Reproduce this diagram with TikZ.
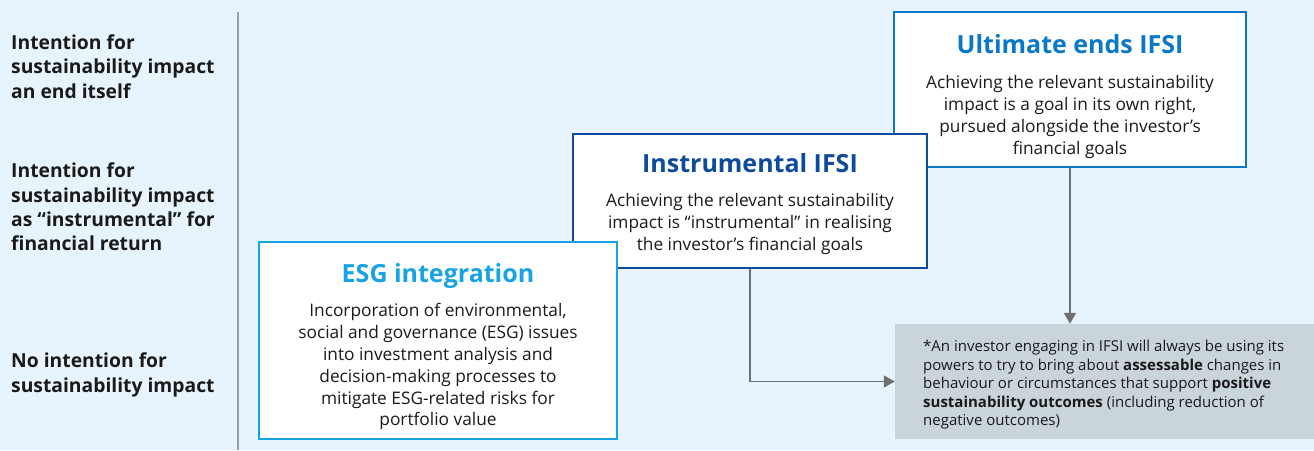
\documentclass[tikz,border=0pt]{standalone}
\usepackage{fontspec}
\setmainfont{Open Sans}
\usetikzlibrary{arrows.meta}
\definecolor{bg}{HTML}{E8F4FD}
\definecolor{ultc}{HTML}{0A78C8}
\definecolor{insc}{HTML}{0D4C9A}
\definecolor{esgc}{HTML}{18A3E3}
\definecolor{grayfill}{HTML}{C9D4DB}
\definecolor{arrc}{HTML}{707070}
\definecolor{sepc}{HTML}{9A9EA2}
\definecolor{txt}{HTML}{1A1A1A}
\tikzset{
  box/.style={draw, fill=white, line width=2.5pt, inner sep=0pt},
  ttl/.style={font=\fontsize{25}{28}\selectfont\bfseries, anchor=base, inner sep=0pt},
  body/.style={font=\fontsize{17.3}{21.8}\selectfont, text=txt, align=center, anchor=north, inner sep=0pt},
  lbl/.style={font=\fontsize{19.3}{24.3}\selectfont\bfseries, text=txt, align=left, anchor=north west, inner sep=0pt},
  conn/.style={draw=arrc, line width=1.5pt, -{Triangle[length=11pt,width=12pt]}},
}
\begin{document}
\begin{tikzpicture}[x=1pt,y=-1pt]
\fill[bg] (0,0) rectangle (1314,450);
\useasboundingbox (0,0) rectangle (1314,450);
% separator
\coordinate (sepT) at (238,12);
\coordinate (sepB) at (238,450);
\draw[sepc, line width=1.2pt] (sepT) -- (sepB);
% left labels
\node[lbl] (l1) at (11,34.5) {Intention for\\sustainability impact\\an end itself};
\node[lbl] (l2) at (11,163) {Intention for\\sustainability impact\\as “instrumental” for\\financial return};
\node[lbl] (l3) at (11,353) {No intention for\\sustainability impact};
% boxes
\node[box, draw=ultc, minimum width=352pt, minimum height=155pt] (ult) at (1070,89.5) {};
\node[ttl, text=ultc] (ultT) at (1070,53) {Ultimate ends IFSI};
\node[body] (ultB) at (1070,75.5) {Achieving the relevant sustainability\\impact is a goal in its own right,\\pursued alongside the investor’s\\financial goals};
\node[box, draw=insc, minimum width=354pt, minimum height=134pt] (ins) at (750,201) {};
\node[ttl, text=insc] (insT) at (750,172) {Instrumental IFSI};
\node[body] (insB) at (750,193.5) {Achieving the relevant sustainability\\impact is “instrumental” in realising\\the investor’s financial goals};
\node[box, draw=esgc, minimum width=358pt, minimum height=197pt] (esg) at (438,340.5) {};
\node[ttl, text=esgc] (esgT) at (438,282) {ESG integration};
\node[body] (esgB) at (438,303.5) {Incorporation of environmental,\\social and governance (ESG) issues\\into investment analysis and\\decision-making processes to\\mitigate ESG-related risks for\\portfolio value};
% grey note
\node[fill=grayfill, minimum width=419pt, minimum height=115pt, inner sep=0pt] (note) at (1104.5,381.5) {};
\node[font=\fontsize{15}{18.5}\selectfont, text=txt, align=left, anchor=north west, inner sep=0pt] (noteT) at (923,340) {*An investor engaging in IFSI will always be using its\\powers to try to bring about \textbf{assessable} changes in\\behaviour or circumstances that support \textbf{positive}\\\textbf{sustainability outcomes} (including reduction of\\negative outcomes)};
% connectors
\draw[conn] (ins.south) |- (note.west);
\draw[conn] (ult.south) -- (ult.south |- note.north);
\end{tikzpicture}
\end{document}
